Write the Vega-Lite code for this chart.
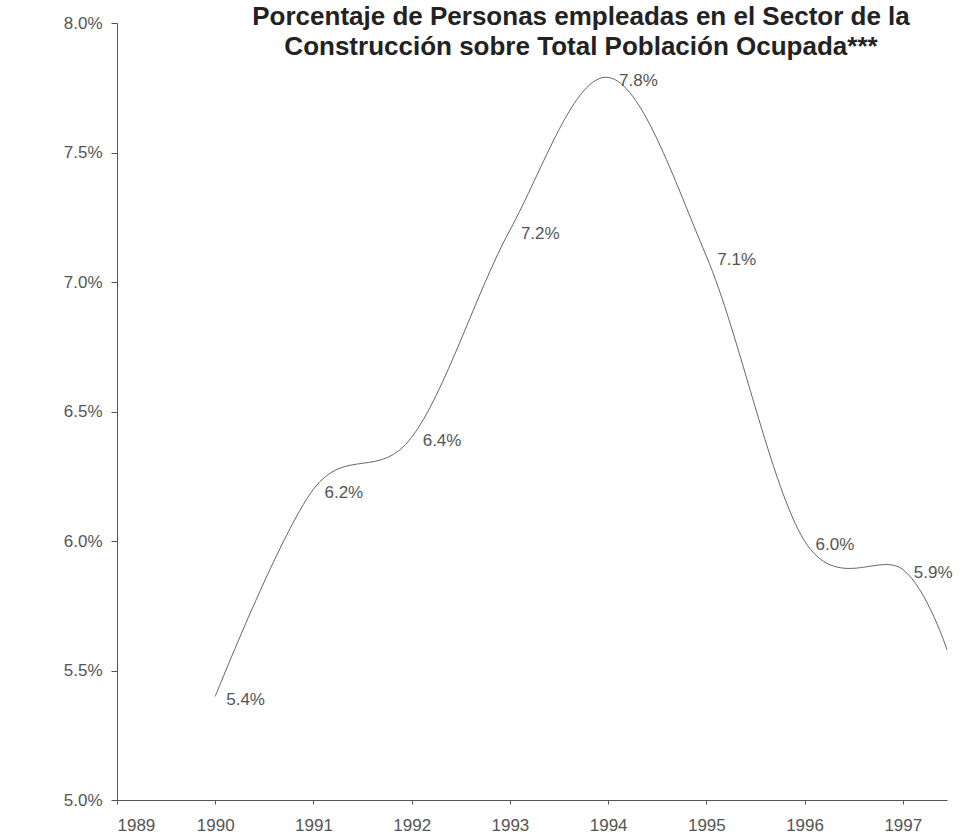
{
  "$schema": "https://vega.github.io/schema/vega-lite/v6.json",
  "width": 830,
  "height": 777,
  "autosize": "none",
  "padding": {"left": 117, "top": 23, "right": 20, "bottom": 40},
  "background": "white",
  "title": {
    "text": ["Porcentaje de Personas empleadas en el Sector de la", "Construcción sobre Total Población Ocupada***"],
    "font": "Liberation Sans",
    "fontSize": 26,
    "fontWeight": "bold",
    "color": "#222222",
    "anchor": "middle",
    "dx": 49,
    "offset": -46,
    "lineHeight": 30
  },
  "config": {"view": {"stroke": null}},
  "data": {
    "values": [
      {"year": 1990, "value": 0.054, "label": "5.4%"},
      {"year": 1991, "value": 0.062, "label": "6.2%"},
      {"year": 1992, "value": 0.064, "label": "6.4%"},
      {"year": 1993, "value": 0.072, "label": "7.2%"},
      {"year": 1994, "value": 0.0779, "label": "7.8%"},
      {"year": 1995, "value": 0.071, "label": "7.1%"},
      {"year": 1996, "value": 0.060, "label": "6.0%"},
      {"year": 1997, "value": 0.0589, "label": "5.9%"},
      {"year": 1997.45, "value": 0.0558, "label": ""}
    ]
  },
  "encoding": {
    "x": {
      "field": "year",
      "type": "quantitative",
      "scale": {"domain": [1989, 1997.45], "nice": false, "zero": false},
      "axis": {
        "title": null,
        "values": [1989, 1990, 1991, 1992, 1993, 1994, 1995, 1996, 1997],
        "format": "d",
        "grid": false,
        "tickSize": 4,
        "labelPadding": 13,
        "labelFont": "Liberation Sans",
        "labelFontSize": 17,
        "labelColor": "#555555",
        "domainColor": "#555555",
        "tickColor": "#555555"
      }
    },
    "y": {
      "field": "value",
      "type": "quantitative",
      "scale": {"domain": [0.05, 0.08], "nice": false, "zero": false},
      "axis": {
        "title": null,
        "values": [0.05, 0.055, 0.06, 0.065, 0.07, 0.075, 0.08],
        "format": ".1%",
        "grid": false,
        "tickSize": 6,
        "labelPadding": 9,
        "labelFont": "Liberation Sans",
        "labelFontSize": 17,
        "labelColor": "#555555",
        "domainColor": "#555555",
        "tickColor": "#555555"
      }
    }
  },
  "layer": [
    {
      "mark": {"type": "line", "interpolate": "cardinal", "tension": 0, "stroke": "#666666", "strokeWidth": 1}
    },
    {
      "mark": {"type": "text", "align": "left", "baseline": "middle", "dx": 11, "dy": 4, "font": "Liberation Sans", "fontSize": 17, "color": "#555555"},
      "encoding": {"text": {"field": "label"}}
    }
  ]
}
